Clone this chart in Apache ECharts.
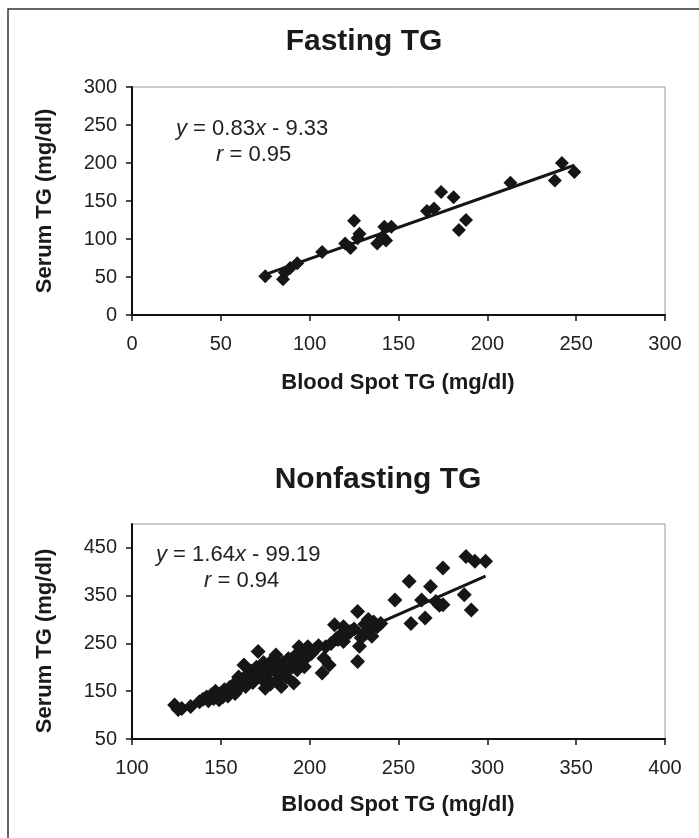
<!DOCTYPE html>
<html>
<head>
<meta charset="utf-8">
<script src="https://cdn.jsdelivr.net/npm/echarts@6/dist/echarts.min.js"></script>
<style>
html,body{margin:0;padding:0;background:#fff;}
#chart{width:699px;height:838px;}
</style>
</head>
<body>
<div id="chart"></div>
<script>
// ---- Fasting TG ----
const fastX = [75, 85, 86, 89, 93, 107, 120, 123, 125, 128, 127, 138, 141, 142, 146, 143, 166, 170, 174, 181, 184, 188, 213, 238, 242, 249];
const fastY = [51, 47, 56, 62, 68, 83, 94, 88, 124, 107, 101, 94, 103, 116, 116, 98, 137, 140, 162, 155, 112, 125, 174, 177, 200, 188];
const fastFitX = [76, 249];
const fastFitY = [54, 197];
const fastXTicks = [0, 50, 100, 150, 200, 250, 300];
const fastYTicks = [0, 50, 100, 150, 200, 250, 300];

// ---- Nonfasting TG ----
const nonX = [124,126,128,133,138,140,142,143,145,146,147,148,149,150,151,152,153,154,155,156,157,158,159,160,160,161,162,163,164,165,166,167,168,169,170,171,172,173,174,175,175,176,177,178,179,180,181,182,183,184,185,186,187,188,189,190,191,192,193,194,195,196,197,198,199,200,201,203,205,207,208,209,211,212,214,215,216,218,219,219,221,223,225,227,227,228,229,231,232,233,234,235,236,238,240,248,256,257,263,265,268,271,273,275,275,287,288,291,293,299];
const nonY = [121,112,114,118,128,133,138,130,143,135,150,140,132,145,138,153,147,140,158,150,163,145,170,180,155,165,172,205,160,185,175,192,168,182,200,233,190,176,210,156,198,185,202,165,215,195,226,175,205,160,209,190,180,218,216,200,167,225,195,243,210,230,201,220,243,235,229,238,245,188,219,243,205,250,289,260,258,270,285,254,268,275,280,317,212,244,262,290,272,300,280,265,295,285,292,341,380,292,341,303,369,338,330,331,408,352,432,320,422,422];
const nonFitX = [125, 299];
const nonFitY = [106, 391];
const nonXTicks = [100, 150, 200, 250, 300, 350, 400];
const nonYTicks = [50, 150, 250, 350, 450];

const FONT = '"Liberation Sans", Arial, Helvetica, sans-serif';
const zip = (a, b) => a.map((v, i) => [v, b[i]]);

const axisCommon = (min, max, interval, ticks) => ({
  type: 'value', min, max, interval,
  axisLine: { show: true, onZero: false, lineStyle: { color: '#111', width: 2 } },
  axisTick: { show: true, inside: false, length: 6, customValues: ticks, lineStyle: { color: '#111', width: 1.5 } },
  axisLabel: { fontSize: 20, color: '#222', fontFamily: FONT, customValues: ticks },
  splitLine: { show: false }
});

const chart = echarts.init(document.getElementById('chart'), null, { renderer: 'canvas' });

const xa0 = Object.assign(axisCommon(0, 300, 50, fastXTicks), { gridIndex: 0 });
xa0.axisLabel.margin = 19;
const ya0 = Object.assign(axisCommon(0, 300, 50, fastYTicks), { gridIndex: 0 });
ya0.axisLabel.margin = 15;
const xa1 = Object.assign(axisCommon(100, 400, 50, nonXTicks), { gridIndex: 1 });
xa1.axisLabel.margin = 19;
const ya1 = Object.assign(axisCommon(50, 500, 100, nonYTicks), { gridIndex: 1 });
ya1.axisLabel.margin = 15;

const eqRich = {
  i: { fontStyle: 'italic', fontSize: 22, fontFamily: FONT, fill: '#222' },
  n: { fontSize: 22, fontFamily: FONT, fill: '#222' }
};
const bold = (text, size) => ({ text, fontSize: size, fontWeight: 'bold', fontFamily: FONT, fill: '#1a1a1a', align: 'center', verticalAlign: 'middle' });

chart.setOption({
  animation: false,
  backgroundColor: '#fff',
  grid: [
    { left: 132, top: 87, width: 533, height: 228, show: true, borderColor: '#999', borderWidth: 1 },
    { left: 132, top: 524, width: 533, height: 215, show: true, borderColor: '#999', borderWidth: 1 }
  ],
  xAxis: [xa0, xa1],
  yAxis: [ya0, ya1],
  series: [
    { type: 'scatter', xAxisIndex: 0, yAxisIndex: 0, data: zip(fastX, fastY), symbol: 'diamond', symbolSize: 14, itemStyle: { color: '#161616', opacity: 1 } },
    { type: 'line', xAxisIndex: 0, yAxisIndex: 0, data: zip(fastFitX, fastFitY), symbol: 'none', lineStyle: { color: '#161616', width: 3 }, z: 3 },
    { type: 'scatter', xAxisIndex: 1, yAxisIndex: 1, data: zip(nonX, nonY), symbol: 'diamond', symbolSize: 15, itemStyle: { color: '#161616', opacity: 1 } },
    { type: 'line', xAxisIndex: 1, yAxisIndex: 1, data: zip(nonFitX, nonFitY), symbol: 'none', lineStyle: { color: '#161616', width: 3 }, z: 3 }
  ],
  graphic: [
    { type: 'rect', shape: { x: 8, y: 9, width: 720, height: 860 }, style: { fill: 'none', stroke: '#333', lineWidth: 1.5 }, silent: true },
    { type: 'text', x: 364, y: 42, style: bold('Fasting TG', 30) },
    { type: 'text', x: 398, y: 383, style: bold('Blood Spot TG (mg/dl)', 22) },
    { type: 'text', x: 45, y: 201, rotation: Math.PI / 2, style: bold('Serum TG (mg/dl)', 22) },
    { type: 'text', x: 378, y: 480, style: bold('Nonfasting TG', 30) },
    { type: 'text', x: 398, y: 805, style: bold('Blood Spot TG (mg/dl)', 22) },
    { type: 'text', x: 45, y: 641, rotation: Math.PI / 2, style: bold('Serum TG (mg/dl)', 22) },
    { type: 'text', x: 176, y: 129, style: { text: '{i|y}{n| = 0.83}{i|x}{n| - 9.33}', rich: eqRich, align: 'left', verticalAlign: 'middle' } },
    { type: 'text', x: 216, y: 155, style: { text: '{i|r}{n| = 0.95}', rich: eqRich, align: 'left', verticalAlign: 'middle' } },
    { type: 'text', x: 156, y: 555, style: { text: '{i|y}{n| = 1.64}{i|x}{n| - 99.19}', rich: eqRich, align: 'left', verticalAlign: 'middle' } },
    { type: 'text', x: 204, y: 581, style: { text: '{i|r}{n| = 0.94}', rich: eqRich, align: 'left', verticalAlign: 'middle' } }
  ]
});
</script>
</body>
</html>
